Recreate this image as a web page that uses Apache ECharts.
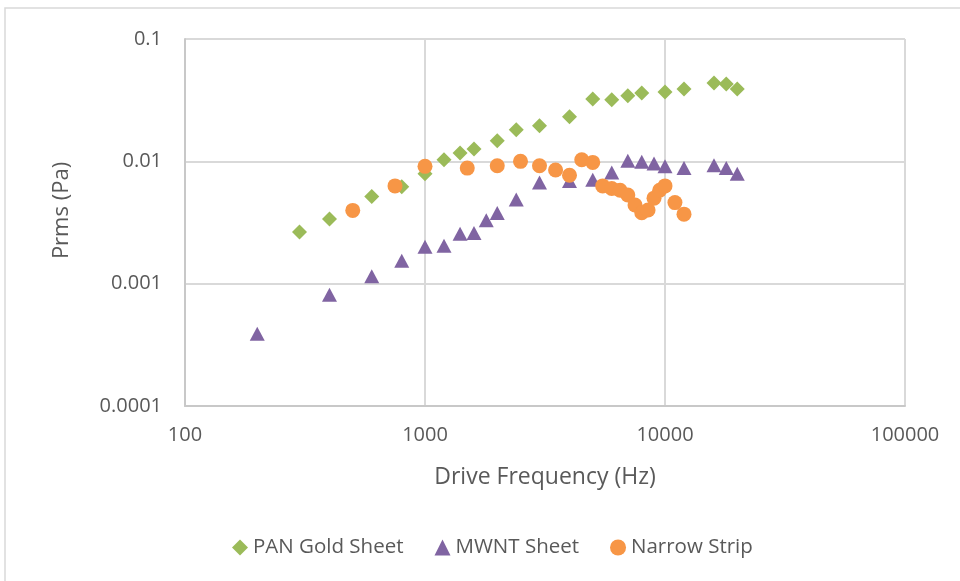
<!DOCTYPE html>
<html>
<head>
<meta charset="utf-8">
<script src="https://cdn.jsdelivr.net/npm/echarts@6/dist/echarts.min.js"></script>
<style>
html,body{margin:0;padding:0;background:#fff;}
#chart{width:960px;height:581px;}
</style>
</head>
<body>
<div id="chart"></div>
<script>
const xTicks = [100, 1000, 10000, 100000];
const yTicks = [0.0001, 0.001, 0.01, 0.1];

const panX = [300,400,600,800,1000,1200,1400,1600,2000,2400,3000,4000,5000,6000,7000,8000,10000,12000,16000,18000,20000];
const panY = [0.00264,0.00337,0.00516,0.0062,0.0079,0.0103,0.0117,0.0126,0.0147,0.0181,0.0195,0.0231,0.0324,0.0318,0.0343,0.0362,0.0369,0.039,0.0437,0.0429,0.039];

const mwntX = [200,400,600,800,1000,1200,1400,1600,1800,2000,2400,3000,4000,5000,6000,7000,8000,9000,10000,12000,16000,18000,20000];
const mwntY = [0.00039,0.00081,0.00115,0.00154,0.002,0.00204,0.00256,0.0026,0.0033,0.00378,0.00488,0.0067,0.0069,0.00707,0.0081,0.0101,0.0099,0.0096,0.0091,0.0088,0.0093,0.0088,0.0079];

const narrowX = [500,750,1000,1500,2000,2500,3000,3500,4000,4500,5000,5500,6000,6500,7000,7500,8000,8500,9000,9500,10000,11000,12000];
const narrowY = [0.00397,0.0063,0.0091,0.0088,0.0092,0.01,0.0092,0.0085,0.0077,0.0103,0.0098,0.0063,0.006,0.0058,0.0053,0.0044,0.0038,0.004,0.005,0.0058,0.0063,0.0046,0.0037];

const seriesNames = ['PAN Gold Sheet', 'MWNT Sheet', 'Narrow Strip'];

function pairs(xs, ys){ return xs.map((x,i)=>[x, ys[i]]); }

const FONT = "'Open Sans', 'Noto Sans', sans-serif";
const TXT = '#595959';

const chart = echarts.init(document.getElementById('chart'), null, {renderer:'canvas'});
chart.setOption({
  animation: false,
  backgroundColor: '#fff',
  graphic: [{
    type: 'rect', shape: {x: 5, y: 8, width: 1000, height: 700},
    style: {fill: 'none', stroke: '#D9D9D9', lineWidth: 1.5}, silent: true, z: -10
  }],
  grid: {left: 185, right: 55, top: 39, bottom: 175, containLabel: false},
  xAxis: {
    type: 'log', logBase: 10, min: xTicks[0], max: xTicks[xTicks.length-1],
    name: 'Drive Frequency (Hz)', nameLocation: 'middle', nameGap: 60,
    nameTextStyle: {color: TXT, fontSize: 23, fontFamily: FONT},
    axisLine: {show: true, lineStyle: {color: '#C8C8C8', width: 2}},
    axisTick: {show: false},
    axisLabel: {color: TXT, fontSize: 20, fontFamily: FONT, margin: 19,
      formatter: v => String(+(+v).toPrecision(6))},
    splitLine: {show: true, lineStyle: {color: '#D9D9D9', width: 2}},
    minorTick: {show: false}
  },
  yAxis: {
    type: 'log', logBase: 10, min: yTicks[0], max: yTicks[yTicks.length-1],
    name: 'Prms (Pa)', nameLocation: 'middle', nameGap: 112, nameRotate: 90,
    nameTextStyle: {color: TXT, fontSize: 22, fontFamily: FONT, padding: [0, 0, 0, 24]},
    axisLine: {show: true, lineStyle: {color: '#C8C8C8', width: 2}},
    axisTick: {show: false},
    axisLabel: {color: TXT, fontSize: 20, fontFamily: FONT, margin: 23,
      formatter: v => String(+(+v).toPrecision(6))},
    splitLine: {show: true, lineStyle: {color: '#D9D9D9', width: 2}}
  },
  legend: {
    left: 227, top: 532, itemGap: 31, itemWidth: 16, itemHeight: 16,
    textStyle: {color: TXT, fontSize: 20.5, fontFamily: FONT},
    data: [
      {name: seriesNames[0], icon: 'diamond'},
      {name: seriesNames[1], icon: 'triangle'},
      {name: seriesNames[2], icon: 'circle'}
    ]
  },
  series: [
    {name: seriesNames[0], type: 'scatter', symbol: 'diamond', symbolSize: 15,
     itemStyle: {color: '#9BBB59', opacity: 1}, data: pairs(panX, panY)},
    {name: seriesNames[1], type: 'scatter', symbol: 'triangle', symbolSize: [15, 14],
     itemStyle: {color: '#8064A2', opacity: 1}, data: pairs(mwntX, mwntY)},
    {name: seriesNames[2], type: 'scatter', symbol: 'circle', symbolSize: 15,
     itemStyle: {color: '#F79646', opacity: 1}, data: pairs(narrowX, narrowY)}
  ]
});
</script>
</body>
</html>
